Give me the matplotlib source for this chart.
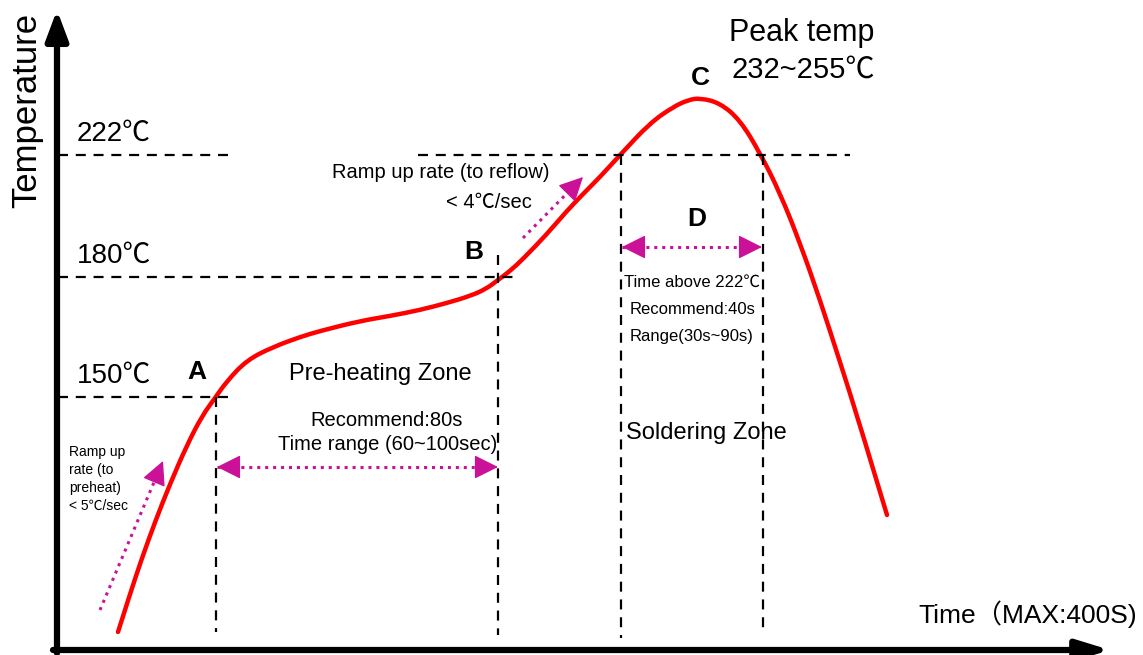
import matplotlib
matplotlib.use("Agg")
import matplotlib.pyplot as plt
from matplotlib.path import Path
from matplotlib.patches import PathPatch
import numpy as np

plt.rcParams['font.family'] = ['Liberation Sans', 'Noto Sans CJK SC', 'DejaVu Sans']

# reflow profile, schematic units (x: time position, y: height on the sketch, down = cooler)
curve_x = [118, 130, 142, 155, 170, 187, 202, 215, 227, 247, 273, 300, 320, 360, 390,
           420, 447, 470, 486, 498, 510, 523, 547, 565, 582, 600, 620, 650, 673, 688, 700,
           720, 740, 760, 780, 800, 820, 840, 860, 887]
curve_y = [632, 594, 558, 522, 484, 445, 416, 398, 381, 360, 347, 337, 331, 321, 316,
           310, 303, 296, 289, 280, 271, 259, 234, 213, 195, 177, 155, 123, 107, 100, 98,
           103, 120, 153, 193, 243, 300, 362, 425, 515]

level_labels = ['150℃', '180℃', '222℃']
level_y = [397, 277, 155]

point_labels = ['A', 'B', 'C', 'D']
point_xy = [(197, 372), (474, 252), (700, 78), (697, 219)]

fig = plt.figure(figsize=(11.43, 6.55), dpi=100)
ax = fig.add_axes([0, 0, 1, 1])
ax.set_xlim(0, 1143)
ax.set_ylim(655, 0)
ax.axis('off')

dash = (0, (4.5, 3.5))
kw = dict(color='black', lw=1.6, linestyle=dash)

# horizontal guide lines
ax.plot([58, 230], [level_y[0]] * 2, **kw)
ax.plot([58, 515], [level_y[1]] * 2, **kw)
ax.plot([58, 230], [level_y[2]] * 2, **kw)
ax.plot([418, 850], [level_y[2]] * 2, **kw)

# vertical guide lines
ax.plot([216, 216], [397, 632], **kw)
ax.plot([498, 498], [255, 635], **kw)
ax.plot([621, 621], [155, 638], **kw)
ax.plot([763, 763], [155, 634], **kw)

# profile curve, drawn as a smooth quadratic spline through the traced points
pts = np.column_stack([curve_x, curve_y]).astype(float)
verts = [pts[0]]
codes = [Path.MOVETO]
for i in range(1, len(pts) - 1):
    nxt = pts[i + 1] if i == len(pts) - 2 else (pts[i] + pts[i + 1]) / 2
    verts += [pts[i], nxt]
    codes += [Path.CURVE3, Path.CURVE3]
ax.add_patch(PathPatch(Path(verts, codes), fill=False, edgecolor='#FF0000', lw=3.2,
                       capstyle='round', joinstyle='round'))

# axes arrows
ax.annotate('', xy=(57, 10), xytext=(57, 653),
            arrowprops=dict(arrowstyle='-|>,head_length=1.2,head_width=0.45', lw=4.5,
                            color='black', mutation_scale=15, shrinkA=0, shrinkB=0))
ax.annotate('', xy=(1110, 650), xytext=(53, 650),
            arrowprops=dict(arrowstyle='-|>,head_length=1.3,head_width=0.4', lw=4.5,
                            color='black', mutation_scale=15, shrinkA=0, shrinkB=0))

ax.text(27, 110, 'Temperature', rotation=90, ha='center', va='center', fontsize=25)
ax.text(1028, 614, 'Time（MAX:400S)', ha='center', va='center', fontsize=19)

for lab, y in zip(level_labels, level_y):
    ax.text(77, y - 21, lab, ha='left', va='center', fontsize=20)

for lab, (x, y) in zip(point_labels, point_xy):
    ax.text(x, y, lab, ha='center', va='center', fontsize=19, fontweight='bold')

ax.text(802, 33, 'Peak temp', ha='center', va='center', fontsize=22)
ax.text(803, 70, '232~255℃', ha='center', va='center', fontsize=21)

# magenta dimension arrows: dotted shaft, solid heads
mag = '#CC1199'
hprops = dict(arrowstyle='-|>,head_length=1.5,head_width=0.75', lw=1, color=mag,
              mutation_scale=10, shrinkA=0, shrinkB=0)


def pink_arrow(tail, tip, both=False):
    tail = np.array(tail, float)
    tip = np.array(tip, float)
    u = (tip - tail) / np.hypot(*(tip - tail))
    ax.plot([tail[0], tip[0] - u[0] * 15], [tail[1], tip[1] - u[1] * 15], color=mag,
            lw=2.2, linestyle=(0, (1, 1.6)), dash_capstyle='butt')
    ax.annotate('', xy=tip, xytext=tip - u * 22, arrowprops=hprops)
    if both:
        ax.annotate('', xy=tail, xytext=tail + u * 22, arrowprops=hprops)


pink_arrow((217, 467), (498, 467), both=True)
pink_arrow((622, 247), (762, 247), both=True)
pink_arrow((100, 610), (163, 461))
pink_arrow((523, 238), (583, 177))

ax.text(380, 374, 'Pre-heating Zone', ha='center', va='center', fontsize=17)
ax.text(387, 420, 'Recommend:80s', ha='center', va='center', fontsize=14.5)
ax.text(388, 445, 'Time range (60~100sec)', ha='center', va='center', fontsize=14.5)

ax.text(692, 282, 'Time above 222℃', ha='center', va='center', fontsize=12)
ax.text(693, 309, 'Recommend:40s', ha='center', va='center', fontsize=12)
ax.text(692, 337, 'Range(30s~90s)', ha='center', va='center', fontsize=12)
ax.text(706, 433, 'Soldering Zone', ha='center', va='center', fontsize=17)

ax.text(441, 173, 'Ramp up rate (to reflow)', ha='center', va='center', fontsize=14.5)
ax.text(489, 203, '< 4℃/sec', ha='center', va='center', fontsize=14.5)

ax.text(69, 479, 'Ramp up\nrate (to\npreheat)\n< 5℃/sec', ha='left', va='center',
        fontsize=10, linespacing=1.35)

fig.savefig('out.png', dpi=100)
